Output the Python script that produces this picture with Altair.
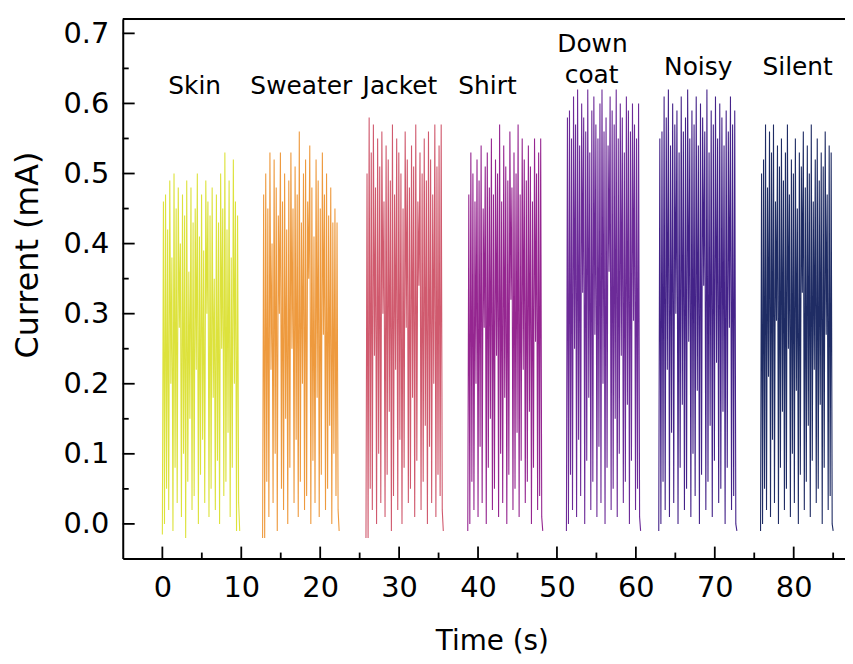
import altair as alt
import pandas as pd
import numpy as np

# ---- data ----
groups = ["Skin", "Sweater", "Jacket", "Shirt", "Down coat", "Noisy", "Silent"]
colors = ["#dde23c", "#ee9a3e", "#d05a6e", "#952690", "#6c2b98", "#442389", "#1f2c64"]
t_start = [0.0, 12.7, 25.8, 38.7, 51.2, 62.9, 75.8]
t_end = [9.8, 22.4, 35.6, 48.2, 60.6, 72.8, 85.0]

skin_peaks = [0.46,0.47,0.42,0.49,0.38,0.50,0.45,0.48,0.40,0.47,0.44,0.49,0.36,0.48,0.43,0.45,0.50,0.41,
              0.47,0.39,0.49,0.46,0.44,0.48,0.35,0.47,0.43,0.50,0.45,0.53,0.42,0.49,0.38,0.52,0.46,0.44]
skin_lows = [0.00,0.05,0.02,0.20,-0.01,0.08,0.03,0.28,0.01,0.10,-0.02,0.06,0.15,0.02,0.04,0.22,0.00,0.07,
             0.12,0.03,0.30,0.01,0.05,0.18,0.02,0.09,0.00,0.25,0.04,0.06,0.13,0.01,0.08,0.20,-0.01,0.03]

sweater_peaks = [0.47,0.50,0.45,0.53,0.40,0.52,0.48,0.44,0.53,0.46,0.50,0.42,0.49,0.53,0.45,0.51,0.47,0.56,
                 0.43,0.50,0.52,0.46,0.54,0.48,0.41,0.52,0.49,0.45,0.53,0.47,0.50,0.44,0.48,0.43,0.45,0.43]
sweater_lows = [-0.02,0.06,0.01,0.22,0.03,0.10,-0.01,0.30,0.05,0.02,0.15,0.00,0.08,0.25,0.03,0.12,0.01,0.06,
                0.20,0.02,0.04,0.35,0.00,0.09,0.03,0.18,0.01,0.07,0.27,0.02,0.05,0.14,0.00,0.10,0.04,0.02]

jacket_peaks = [0.50,0.58,0.53,0.57,0.48,0.55,0.51,0.56,0.46,0.54,0.52,0.49,0.57,0.47,0.55,0.53,0.50,0.45,
                0.56,0.52,0.48,0.54,0.51,0.57,0.46,0.53,0.50,0.55,0.49,0.56,0.52,0.47,0.57,0.51,0.54,0.57]
jacket_lows = [-0.02,0.05,0.02,0.24,0.00,0.10,0.03,0.30,0.01,0.07,0.16,-0.01,0.04,0.22,0.02,0.12,0.00,0.08,
               0.28,0.03,0.05,0.18,0.01,0.09,0.34,0.02,0.06,0.14,0.00,0.11,0.03,0.20,0.01,0.07,0.04,0.02]

shirt_peaks = [0.47,0.53,0.50,0.46,0.52,0.49,0.54,0.45,0.51,0.53,0.48,0.55,0.47,0.52,0.50,0.57,0.46,0.54,
               0.51,0.49,0.56,0.48,0.53,0.50,0.57,0.47,0.55,0.52,0.49,0.54,0.51,0.46,0.55,0.50,0.53,0.55]
shirt_lows = [0.00,0.06,0.02,0.20,0.01,0.11,0.03,0.28,0.00,0.08,0.15,0.02,0.05,0.24,0.01,0.10,0.03,0.18,
              0.00,0.07,0.32,0.02,0.05,0.13,0.01,0.09,0.22,0.03,0.06,0.16,0.00,0.08,0.26,0.02,0.04,0.01]

down_peaks = [0.58,0.59,0.55,0.61,0.57,0.62,0.54,0.60,0.58,0.56,0.62,0.53,0.59,0.61,0.57,0.55,0.60,0.62,
              0.56,0.58,0.54,0.61,0.59,0.57,0.62,0.55,0.60,0.58,0.53,0.61,0.59,0.56,0.60,0.57,0.55,0.60]
down_lows = [0.00,0.07,0.02,0.25,0.01,0.12,0.04,0.33,0.00,0.09,0.18,0.02,0.06,0.27,0.01,0.11,0.03,0.20,
             0.00,0.08,0.36,0.02,0.05,0.15,0.01,0.10,0.24,0.03,0.06,0.17,0.00,0.09,0.29,0.02,0.05,0.01]

noisy_peaks = [0.55,0.56,0.61,0.58,0.62,0.54,0.60,0.57,0.59,0.53,0.61,0.56,0.58,0.62,0.55,0.59,0.57,0.61,
               0.54,0.60,0.58,0.56,0.62,0.53,0.59,0.57,0.61,0.55,0.60,0.58,0.54,0.59,0.56,0.61,0.57,0.59]
noisy_lows = [0.00,0.06,0.02,0.22,0.01,0.13,0.03,0.30,0.00,0.08,0.17,0.02,0.05,0.26,0.01,0.10,0.04,0.19,
              0.00,0.07,0.34,0.02,0.06,0.14,0.01,0.09,0.23,0.03,0.05,0.16,0.00,0.08,0.28,0.02,0.04,0.00]

silent_peaks = [0.50,0.52,0.57,0.48,0.56,0.53,0.57,0.46,0.54,0.51,0.55,0.49,0.53,0.57,0.47,0.52,0.50,0.55,
                0.45,0.53,0.51,0.56,0.48,0.54,0.50,0.57,0.46,0.52,0.55,0.49,0.53,0.51,0.56,0.47,0.54,0.53]
silent_lows = [0.00,0.05,0.02,0.21,0.01,0.12,0.03,0.29,0.00,0.08,0.16,0.02,0.05,0.25,0.01,0.10,0.03,0.19,
               0.00,0.07,0.33,0.02,0.06,0.14,0.01,0.09,0.22,0.03,0.05,0.17,0.00,0.08,0.27,0.02,0.04,0.00]

start_level = [-0.015, -0.02, -0.02, -0.01, -0.01, -0.01, -0.01]
tail_level = [-0.01, -0.01, -0.01, -0.01, -0.01, -0.01, -0.01]

peaks = [skin_peaks, sweater_peaks, jacket_peaks, shirt_peaks, down_peaks, noisy_peaks, silent_peaks]
lows = [skin_lows, sweater_lows, jacket_lows, shirt_lows, down_lows, noisy_lows, silent_lows]

label_text = ["Skin", "Sweater", "Jacket", "Shirt", "Down", "coat", "Noisy", "Silent"]
label_x = [4.1, 17.6, 30.1, 41.2, 54.5, 54.4, 67.9, 80.5]
label_y = [0.613, 0.613, 0.613, 0.613, 0.674, 0.629, 0.640, 0.640]

x_major = [0, 10, 20, 30, 40, 50, 60, 70, 80]
x_minor = [5, 15, 25, 35, 45, 55, 65, 75, 85]
y_major = [0.0, 0.1, 0.2, 0.3, 0.4, 0.5, 0.6, 0.7]
y_minor = [0.05, 0.15, 0.25, 0.35, 0.45, 0.55, 0.65]

# ---- build table ----
rows = []
for gi, g in enumerate(groups):
    vals = [start_level[gi]]
    for p, lo in zip(peaks[gi], lows[gi]):
        vals += [p, lo]
    vals += [tail_level[gi]]
    ts = np.linspace(t_start[gi], t_end[gi], len(vals))
    for k, (t, v) in enumerate(zip(ts, vals)):
        rows.append({"t": float(t), "i": gi * 1000 + k, "v": v, "g": g})
df = pd.DataFrame(rows)

W, H = 727, 543
XDOM = [-5.02, 86.5]
YDOM = [-0.0494, 0.7204]
FONT = "DejaVu Sans"

xs = alt.Scale(domain=XDOM, nice=False, zero=False)
ys = alt.Scale(domain=YDOM, nice=False, zero=False)

lines = alt.Chart(df).mark_line(strokeWidth=1.1, interpolate="linear").encode(
    x=alt.X("t:Q", scale=xs,
            axis=alt.Axis(title="Time (s)", values=x_major, format="d", ticks=False, grid=False,
                          domainColor="black", domainWidth=2, labelFont=FONT, labelFontSize=29,
                          labelColor="black", labelPadding=15, labelFlush=False,
                          titleFont=FONT, titleFontSize=28, titleFontWeight="normal", titleColor="black",
                          titleAnchor="start", titleAlign="center", titleX=371.5, titleY=92,
                          titleBaseline="alphabetic")),
    y=alt.Y("v:Q", scale=ys,
            axis=alt.Axis(title="Current (mA)", values=y_major, format=".1f", ticks=False, grid=False,
                          domainColor="black", domainWidth=2, labelFont=FONT, labelFontSize=29,
                          labelColor="black", labelPadding=14, labelFlush=False,
                          titleFont=FONT, titleFontSize=32, titleFontWeight="normal", titleColor="black",
                          titleAnchor="start", titleAlign="center", titleAngle=-90,
                          titleX=-96, titleY=237, titleBaseline="middle")),
    color=alt.Color("g:N", scale=alt.Scale(domain=groups, range=colors), legend=None),
    detail="g:N",
    order="i:Q",
)

tick_style = dict(color="black", strokeWidth=1.8)
xmaj = alt.Chart(pd.DataFrame({"x": x_major})).mark_rule(**tick_style).encode(
    x=alt.X("x:Q", scale=xs), y=alt.value(H), y2=alt.value(H - 12))
xmin = alt.Chart(pd.DataFrame({"x": x_minor})).mark_rule(**tick_style).encode(
    x=alt.X("x:Q", scale=xs), y=alt.value(H), y2=alt.value(H - 6))
ymaj = alt.Chart(pd.DataFrame({"y": y_major})).mark_rule(**tick_style).encode(
    y=alt.Y("y:Q", scale=ys), x=alt.value(0), x2=alt.value(12))
ymin = alt.Chart(pd.DataFrame({"y": y_minor})).mark_rule(**tick_style).encode(
    y=alt.Y("y:Q", scale=ys), x=alt.value(0), x2=alt.value(6))
top = alt.Chart(pd.DataFrame({"a": [0]})).mark_rule(color="black", strokeWidth=2).encode(
    y=alt.value(0), x=alt.value(0), x2=alt.value(W))

labels = alt.Chart(pd.DataFrame({"x": label_x, "y": label_y, "s": label_text})).mark_text(
    font=FONT, fontSize=25, color="black", align="center", baseline="alphabetic"
).encode(x=alt.X("x:Q", scale=xs), y=alt.Y("y:Q", scale=ys), text="s:N")

chart = alt.layer(lines, xmaj, xmin, ymaj, ymin, top, labels).properties(
    width=W, height=H,
    autosize=alt.AutoSizeParams(type="none"),
    padding={"left": 115.5, "top": 9, "right": 0, "bottom": 100},
).configure_view(stroke=None).configure(background="white")

chart.save("out.html", embed_options={"renderer": "svg", "actions": False})
